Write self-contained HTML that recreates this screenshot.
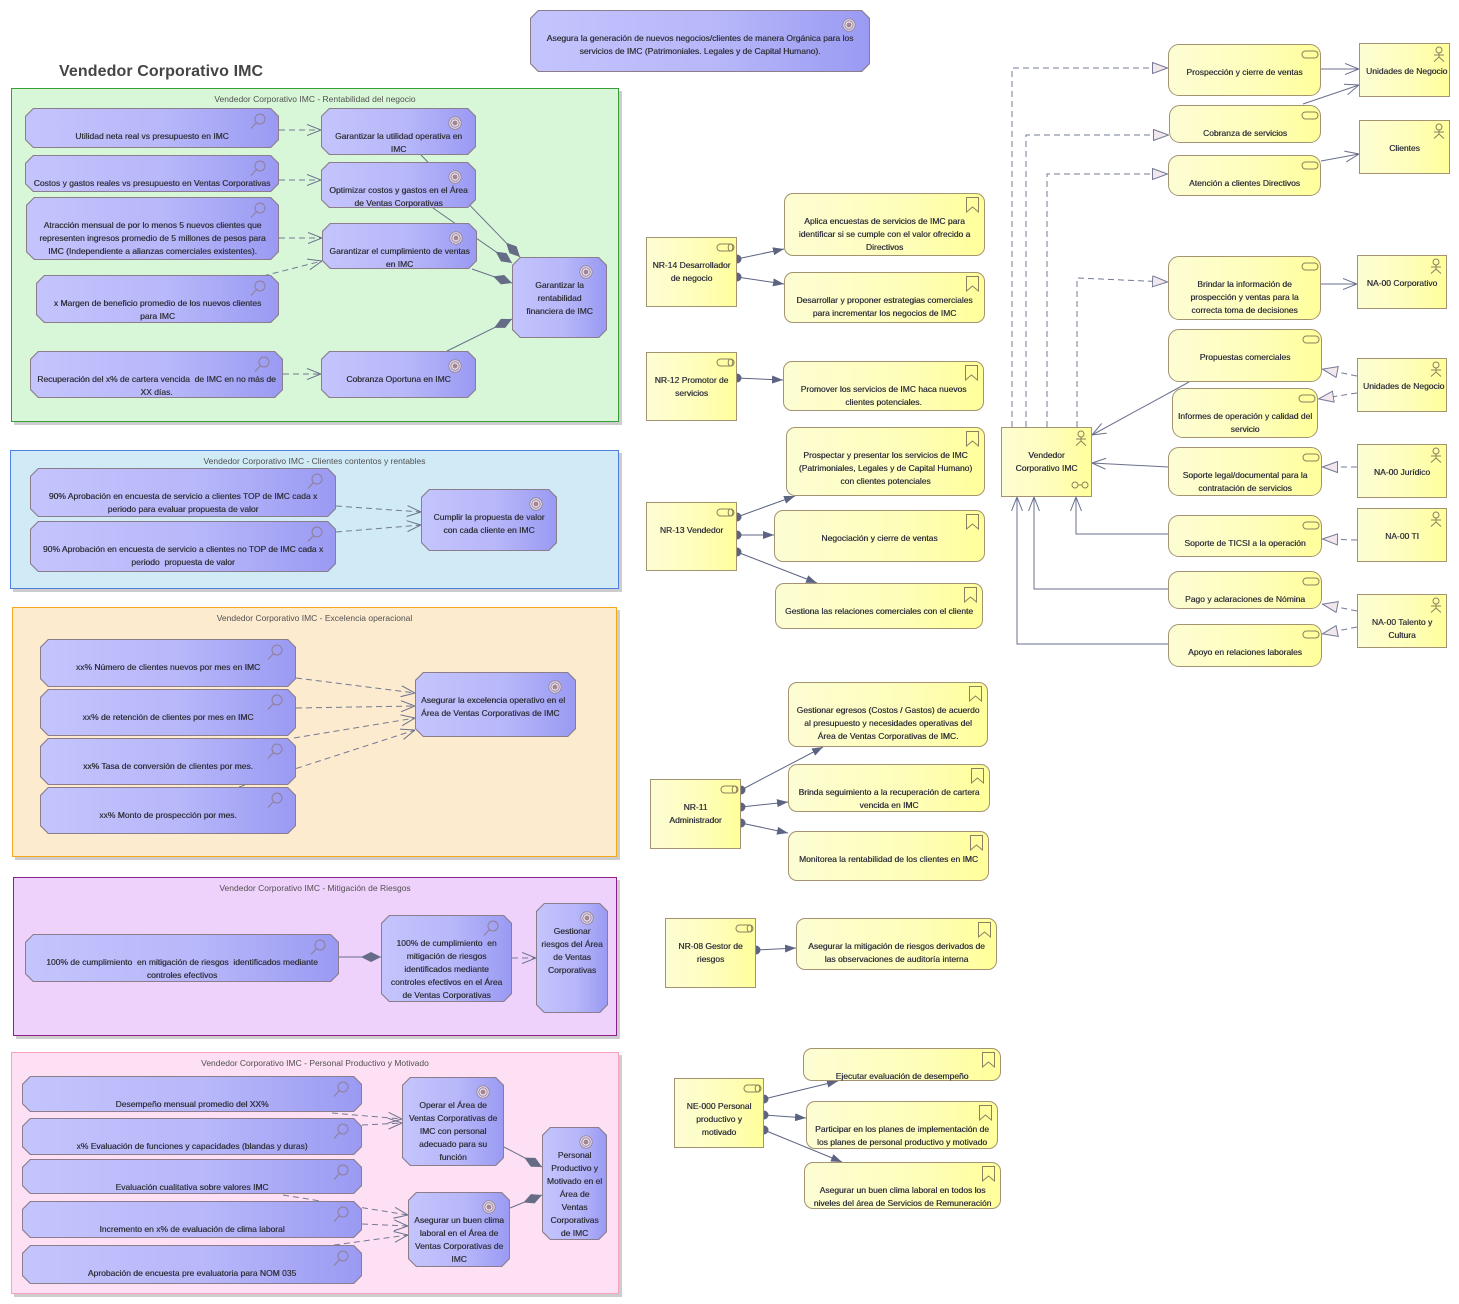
<!DOCTYPE html>
<html><head><meta charset="utf-8"><style>
*{box-sizing:border-box}
body{margin:0;width:1459px;height:1304px;position:relative;overflow:hidden;background:#fff;font-family:"Liberation Sans",Arial,sans-serif}
.f{position:absolute;box-shadow:3px 3px 0 #cdcdcd}
.f>span{position:absolute;left:0;right:0;top:5px;text-align:center;font-size:8.5px;line-height:10px;color:#505050;white-space:nowrap}
.m,.y,.r{position:absolute}
.m{background:#8b7d8c;clip-path:polygon(8px 0,calc(100% - 8px) 0,100% 8px,100% calc(100% - 8px),calc(100% - 8px) 100%,8px 100%,0 calc(100% - 8px),0 8px)}
.m>i{position:absolute;left:1px;top:1px;right:1px;bottom:1px;background:linear-gradient(90deg,#c4c4fd,#b7b7fa 55%,#9a9af3);clip-path:polygon(7.6px 0,calc(100% - 7.6px) 0,100% 7.6px,100% calc(100% - 7.6px),calc(100% - 7.6px) 100%,7.6px 100%,0 calc(100% - 7.6px),0 7.6px)}
b{position:absolute;left:0;right:0;top:22px;text-align:center;font-weight:normal;font-size:8.5px;line-height:13px;color:#34343f;white-space:nowrap;text-shadow:0.3px 0 0 #34343f}
.y{border:1px solid #a39370;border-radius:9px;background:linear-gradient(90deg,#fdfdd4,#fefeb9 60%,#ffff9b)}
.r{border:1px solid #a39370;background:linear-gradient(90deg,#fdfdd4,#fefeb9 60%,#ffff9b);overflow:hidden}
.y>b,.r>b{top:21px}
.gl{position:absolute;right:14px;top:8px;width:14px;height:14px}
.kp{position:absolute;right:13px;top:5px;width:16px;height:16px}
.fn{position:absolute;right:4px;top:2px;width:15px;height:17px}
.sv{position:absolute;right:1px;top:5px;width:18px;height:9px}
.ro{position:absolute;right:1px;top:5px;width:19px;height:9px}
.ac{position:absolute;right:3px;top:2px;width:14px;height:16px}
.co{position:absolute;right:2px;bottom:7px;width:18px;height:8px}
#c{position:absolute;left:0;top:0}
.title{position:absolute;left:59px;top:63px;font-size:16px;line-height:18px;letter-spacing:0.1px;font-weight:bold;color:#454545;white-space:nowrap}
</style></head><body>
<svg width="0" height="0" style="position:absolute"><defs>
<symbol id="gl" viewBox="0 0 14 14"><circle cx="7" cy="7" r="6.2" fill="#e8deef" stroke="#9b8a9f"/><circle cx="7" cy="7" r="4.2" fill="none" stroke="#9b8a9f"/><circle cx="7" cy="7" r="2.4" fill="#a4868e"/></symbol>
<symbol id="kp" viewBox="0 0 16 16"><circle cx="10" cy="6" r="5" fill="none" stroke="#8f7f96"/><path d="M6.5,9.5 L1,15.5" stroke="#8f7f96"/></symbol>
<symbol id="fn" viewBox="0 0 15 17"><path d="M1.5,1.5 H13.5 V16 L7.5,11 L1.5,16 Z" fill="none" stroke="#8c8060"/></symbol>
<symbol id="sv" viewBox="0 0 18 9"><rect x="1" y="1" width="16" height="7" rx="3.5" fill="none" stroke="#8c8060"/></symbol>
<symbol id="ro" viewBox="0 0 19 9"><rect x="1" y="1" width="17" height="7" rx="3.5" fill="none" stroke="#8c8060"/><ellipse cx="14.5" cy="4.5" rx="2.3" ry="3.5" fill="none" stroke="#8c8060"/></symbol>
<symbol id="ac" viewBox="0 0 14 16"><circle cx="7" cy="4" r="3" fill="none" stroke="#8c8060"/><path d="M7,7 V11 M2,9 H12 M7,11 L2,15.5 M7,11 L12,15.5" fill="none" stroke="#8c8060"/></symbol>
<symbol id="co" viewBox="0 0 18 8"><circle cx="4" cy="4" r="3" fill="none" stroke="#8c8060"/><circle cx="14" cy="4" r="3" fill="none" stroke="#8c8060"/><path d="M7,4 H11" stroke="#8c8060"/></symbol>
</defs></svg>

<div class="title">Vendedor Corporativo IMC</div>

<div class="f" style="left:11px;top:88px;width:608px;height:334px;background:#d8f7d8;border:1px solid #35a035"><span>Vendedor Corporativo IMC - Rentabilidad del negocio</span></div>
<div class="f" style="left:10px;top:450px;width:609px;height:139px;background:#d1ebf6;border:1px solid #4f7fe0"><span>Vendedor Corporativo IMC - Clientes contentos y rentables</span></div>
<div class="f" style="left:12px;top:607px;width:605px;height:250px;background:#fdebcf;border:1px solid #f6a81d"><span>Vendedor Corporativo IMC - Excelencia operacional</span></div>
<div class="f" style="left:13px;top:877px;width:604px;height:159px;background:#efd2fb;border:1px solid #8b1f8b"><span>Vendedor Corporativo IMC - Mitigación de Riesgos</span></div>
<div class="f" style="left:11px;top:1052px;width:608px;height:242px;background:#fde0f3;border:1px solid #f5a2bd"><span>Vendedor Corporativo IMC - Personal Productivo y Motivado</span></div>

<svg id="c" width="1459" height="1304">
<defs>
<marker id="oa" viewBox="0 0 14 12" refX="14" refY="6" markerWidth="14" markerHeight="12" orient="auto" markerUnits="userSpaceOnUse"><path d="M0,0.5 L14,6 L0,11.5" fill="none" stroke="#6a708c" stroke-width="1"/></marker>
<marker id="fa" viewBox="0 0 11 8" refX="11" refY="4" markerWidth="11" markerHeight="8" orient="auto" markerUnits="userSpaceOnUse"><path d="M0,0 L11,4 L0,8 Z" fill="#5c6482"/></marker>
<marker id="dm" viewBox="0 0 20 10" refX="20" refY="5" markerWidth="20" markerHeight="10" orient="auto" markerUnits="userSpaceOnUse"><path d="M0,5 L10,0 L20,5 L10,10 Z" fill="#666c86"/></marker>
<marker id="tr" viewBox="0 0 16 12" refX="16" refY="6" markerWidth="16" markerHeight="12" orient="auto" markerUnits="userSpaceOnUse"><path d="M0.5,0.5 L15.5,6 L0.5,11.5 Z" fill="#f3e7ee" stroke="#747a94"/></marker>
</defs>
<g fill="none" stroke="#737a94" stroke-width="1" stroke-dasharray="6,4" marker-end="url(#oa)">
<path d="M279,130 L321,130"/><path d="M279,180 L321,180"/><path d="M279,238 L322,238"/><path d="M263,276 L322,261"/><path d="M283,374 L321,374"/>
<path d="M336,506 L421,512"/><path d="M336,532 L421,525"/>
<path d="M296,678 L415,693"/><path d="M296,708 L415,706"/><path d="M294,738 L415,718"/><path d="M239,787 L415,730"/>
<path d="M512,958 L536,958"/>
<path d="M332,1113 L402,1119"/><path d="M362,1125 L402,1123"/><path d="M283,1195 L408,1215"/><path d="M362,1224 L408,1226"/><path d="M334,1245 L408,1235"/>
</g>
<g fill="none" stroke="#6a708c" stroke-width="1" marker-end="url(#dm)">
<path d="M421,155 L520,257"/><path d="M433,208 L512,263"/><path d="M472,269 L512,283"/><path d="M447,351 L512,319"/>
<path d="M339,957 L381,957"/>
<path d="M504,1147 L542,1167"/><path d="M510,1208 L542,1195"/>
</g>
<g fill="none" stroke="#5c6482" stroke-width="1" marker-end="url(#fa)">
<path d="M737,259 L784,249"/><path d="M737,277 L784,284"/><path d="M737,378 L783,380"/>
<path d="M737,517 L795,496"/><path d="M737,535 L774,535"/><path d="M737,552 L817,583"/>
<path d="M741,790 L823,747"/><path d="M741,807 L788,802"/><path d="M741,823 L788,833"/>
<path d="M756,950 L796,948"/>
<path d="M764,1099 L838,1081"/><path d="M764,1115 L806,1118"/><path d="M764,1130 L842,1162"/>
</g>
<g fill="none" stroke="#6a708c" stroke-width="1" marker-end="url(#oa)">
<path d="M1321,69 L1359,69"/><path d="M1303,104 L1359,85"/><path d="M1321,161 L1359,154"/><path d="M1321,284 L1357,284"/>
<path d="M1189,382 L1092,435"/><path d="M1168,467 L1092,463"/>
<path d="M1168,534 H1076 V497"/><path d="M1168,589 H1034 V497"/><path d="M1168,644 H1017 V497"/>
</g>
<g fill="none" stroke="#737a94" stroke-width="1" stroke-dasharray="6,4" marker-end="url(#tr)">
<path d="M1012,427 V68 H1168"/><path d="M1026,427 V135 H1169"/><path d="M1047,427 V174 H1168"/><path d="M1077,427 V278 L1168,282"/>
<path d="M1357,376 L1322,369"/><path d="M1357,393 L1318,399"/><path d="M1357,467 L1322,467"/><path d="M1357,540 L1322,539"/><path d="M1357,611 L1322,604"/><path d="M1357,627 L1322,634"/>
</g>
<g fill="#5c6482">
<circle cx="737" cy="259" r="4.5"/><circle cx="737" cy="277" r="4.5"/><circle cx="737" cy="378" r="4.5"/>
<circle cx="737" cy="517" r="4.5"/><circle cx="737" cy="535" r="4.5"/><circle cx="737" cy="552" r="4.5"/>
<circle cx="741" cy="790" r="4.5"/><circle cx="741" cy="807" r="4.5"/><circle cx="741" cy="823" r="4.5"/>
<circle cx="756" cy="950" r="4.5"/>
<circle cx="764" cy="1099" r="4.5"/><circle cx="764" cy="1115" r="4.5"/><circle cx="764" cy="1130" r="4.5"/>
</g>
</svg>

<!-- Top goal -->
<div class="m" style="left:530px;top:10px;width:340px;height:62px"><i></i><svg class="gl"><use href="#gl"/></svg><b>Asegura la generación de nuevos negocios/clientes de manera Orgánica para los<br>servicios de IMC (Patrimoniales. Legales y de Capital Humano).</b></div>

<!-- Frame 1 -->
<div class="m" style="left:25px;top:108px;width:254px;height:40px"><i></i><svg class="kp"><use href="#kp"/></svg><b>Utilidad neta real vs presupuesto en IMC</b></div>
<div class="m" style="left:25px;top:155px;width:254px;height:37px"><i></i><svg class="kp"><use href="#kp"/></svg><b>Costos y gastos reales vs presupuesto en Ventas Corporativas</b></div>
<div class="m" style="left:26px;top:197px;width:253px;height:63px"><i></i><svg class="kp"><use href="#kp"/></svg><b>Atracción mensual de por lo menos 5 nuevos clientes que<br>representen ingresos promedio de 5 millones de pesos para<br>IMC (Independiente a alianzas comerciales existentes).</b></div>
<div class="m" style="left:36px;top:275px;width:243px;height:48px"><i></i><svg class="kp"><use href="#kp"/></svg><b>x Margen de beneficio promedio de los nuevos clientes<br>para IMC</b></div>
<div class="m" style="left:30px;top:351px;width:253px;height:47px"><i></i><svg class="kp"><use href="#kp"/></svg><b>Recuperación del x% de cartera vencida&nbsp; de IMC en no más de<br>XX días.</b></div>
<div class="m" style="left:321px;top:108px;width:155px;height:47px"><i></i><svg class="gl"><use href="#gl"/></svg><b>Garantizar la utilidad operativa en<br>IMC</b></div>
<div class="m" style="left:321px;top:162px;width:155px;height:46px"><i></i><svg class="gl"><use href="#gl"/></svg><b>Optimizar costos y gastos en el Área<br>de Ventas Corporativas</b></div>
<div class="m" style="left:322px;top:223px;width:155px;height:46px"><i></i><svg class="gl"><use href="#gl"/></svg><b>Garantizar el cumplimiento de ventas<br>en IMC</b></div>
<div class="m" style="left:321px;top:351px;width:155px;height:47px"><i></i><svg class="gl"><use href="#gl"/></svg><b>Cobranza Oportuna en IMC</b></div>
<div class="m" style="left:512px;top:257px;width:95px;height:81px"><i></i><svg class="gl"><use href="#gl"/></svg><b>Garantizar la<br>rentabilidad<br>financiera de IMC</b></div>

<!-- Frame 2 -->
<div class="m" style="left:30px;top:468px;width:306px;height:49px"><i></i><svg class="kp"><use href="#kp"/></svg><b>90% Aprobación en encuesta de servicio a clientes TOP de IMC cada x<br>periodo para evaluar propuesta de valor</b></div>
<div class="m" style="left:30px;top:521px;width:306px;height:51px"><i></i><svg class="kp"><use href="#kp"/></svg><b>90% Aprobación en encuesta de servicio a clientes no TOP de IMC cada x<br>periodo&nbsp; propuesta de valor</b></div>
<div class="m" style="left:421px;top:489px;width:136px;height:62px"><i></i><svg class="gl"><use href="#gl"/></svg><b>Cumplir la propuesta de valor<br>con cada cliente en IMC</b></div>

<!-- Frame 3 -->
<div class="m" style="left:40px;top:639px;width:256px;height:48px"><i></i><svg class="kp"><use href="#kp"/></svg><b>xx% Número de clientes nuevos por mes en IMC</b></div>
<div class="m" style="left:40px;top:689px;width:256px;height:47px"><i></i><svg class="kp"><use href="#kp"/></svg><b>xx% de retención de clientes por mes en IMC</b></div>
<div class="m" style="left:40px;top:738px;width:256px;height:47px"><i></i><svg class="kp"><use href="#kp"/></svg><b>xx% Tasa de conversión de clientes por mes.</b></div>
<div class="m" style="left:40px;top:787px;width:256px;height:47px"><i></i><svg class="kp"><use href="#kp"/></svg><b>xx% Monto de prospección por mes.</b></div>
<div class="m" style="left:415px;top:672px;width:161px;height:65px"><i></i><svg class="gl"><use href="#gl"/></svg><b style="text-align:left;left:6px">Asegurar la excelencia operativo en el<br>Área de Ventas Corporativas de IMC</b></div>

<!-- Frame 4 -->
<div class="m" style="left:25px;top:934px;width:314px;height:48px"><i></i><svg class="kp"><use href="#kp"/></svg><b>100% de cumplimiento&nbsp; en mitigación de riesgos&nbsp; identificados mediante<br>controles efectivos</b></div>
<div class="m" style="left:381px;top:915px;width:131px;height:87px"><i></i><svg class="kp"><use href="#kp"/></svg><b>100% de cumplimiento&nbsp; en<br>mitigación de riesgos<br>identificados mediante<br>controles efectivos en el Área<br>de Ventas Corporativas</b></div>
<div class="m" style="left:536px;top:903px;width:72px;height:110px"><i></i><svg class="gl"><use href="#gl"/></svg><b>Gestionar<br>riesgos del Área<br>de Ventas<br>Corporativas</b></div>

<!-- Frame 5 -->
<div class="m" style="left:22px;top:1076px;width:340px;height:36px"><i></i><svg class="kp"><use href="#kp"/></svg><b>Desempeño mensual promedio del XX%</b></div>
<div class="m" style="left:22px;top:1118px;width:340px;height:37px"><i></i><svg class="kp"><use href="#kp"/></svg><b>x% Evaluación de funciones y capacidades (blandas y duras)</b></div>
<div class="m" style="left:22px;top:1159px;width:340px;height:35px"><i></i><svg class="kp"><use href="#kp"/></svg><b>Evaluación cualitativa sobre valores IMC</b></div>
<div class="m" style="left:22px;top:1201px;width:340px;height:37px"><i></i><svg class="kp"><use href="#kp"/></svg><b>Incremento en x% de evaluación de clima laboral</b></div>
<div class="m" style="left:22px;top:1245px;width:340px;height:39px"><i></i><svg class="kp"><use href="#kp"/></svg><b>Aprobación de encuesta pre evaluatoria para NOM 035</b></div>
<div class="m" style="left:402px;top:1077px;width:102px;height:89px"><i></i><svg class="gl"><use href="#gl"/></svg><b>Operar el Área de<br>Ventas Corporativas de<br>IMC con personal<br>adecuado para su<br>función</b></div>
<div class="m" style="left:408px;top:1192px;width:102px;height:75px"><i></i><svg class="gl"><use href="#gl"/></svg><b>Asegurar un buen clima<br>laboral en el Área de<br>Ventas Corporativas de<br>IMC</b></div>
<div class="m" style="left:542px;top:1127px;width:65px;height:113px"><i></i><svg class="gl"><use href="#gl"/></svg><b>Personal<br>Productivo y<br>Motivado en el<br>Área de<br>Ventas<br>Corporativas<br>de IMC</b></div>

<!-- Roles -->
<div class="r" style="left:646px;top:237px;width:91px;height:70px"><svg class="ro"><use href="#ro"/></svg><b>NR-14 Desarrollador<br>de negocio</b></div>
<div class="r" style="left:646px;top:352px;width:91px;height:69px"><svg class="ro"><use href="#ro"/></svg><b>NR-12 Promotor de<br>servicios</b></div>
<div class="r" style="left:646px;top:502px;width:91px;height:69px"><svg class="ro"><use href="#ro"/></svg><b>NR-13 Vendedor</b></div>
<div class="r" style="left:650px;top:779px;width:91px;height:70px"><svg class="ro"><use href="#ro"/></svg><b>NR-11<br>Administrador</b></div>
<div class="r" style="left:665px;top:918px;width:91px;height:70px"><svg class="ro"><use href="#ro"/></svg><b>NR-08 Gestor de<br>riesgos</b></div>
<div class="r" style="left:674px;top:1078px;width:90px;height:70px"><svg class="ro"><use href="#ro"/></svg><b>NE-000 Personal<br>productivo y<br>motivado</b></div>

<!-- Functions -->
<div class="y" style="left:784px;top:193px;width:201px;height:63px"><svg class="fn"><use href="#fn"/></svg><b>Aplica encuestas de servicios de IMC para<br>identificar si se cumple con el valor ofrecido a<br>Directivos</b></div>
<div class="y" style="left:784px;top:272px;width:201px;height:51px"><svg class="fn"><use href="#fn"/></svg><b>Desarrollar y proponer estrategias comerciales<br>para incrementar los negocios de IMC</b></div>
<div class="y" style="left:783px;top:361px;width:201px;height:50px"><svg class="fn"><use href="#fn"/></svg><b>Promover los servicios de IMC haca nuevos<br>clientes potenciales.</b></div>
<div class="y" style="left:786px;top:427px;width:199px;height:69px"><svg class="fn"><use href="#fn"/></svg><b>Prospectar y presentar los servicios de IMC<br>(Patrimoniales, Legales y de Capital Humano)<br>con clientes potenciales</b></div>
<div class="y" style="left:774px;top:510px;width:211px;height:52px"><svg class="fn"><use href="#fn"/></svg><b>Negociación y cierre de ventas</b></div>
<div class="y" style="left:775px;top:583px;width:208px;height:46px"><svg class="fn"><use href="#fn"/></svg><b>Gestiona las relaciones comerciales con el cliente</b></div>
<div class="y" style="left:788px;top:682px;width:200px;height:65px"><svg class="fn"><use href="#fn"/></svg><b>Gestionar egresos (Costos / Gastos) de acuerdo<br>al presupuesto y necesidades operativas del<br>Área de Ventas Corporativas de IMC.</b></div>
<div class="y" style="left:788px;top:764px;width:202px;height:48px"><svg class="fn"><use href="#fn"/></svg><b>Brinda seguimiento a la recuperación de cartera<br>vencida en IMC</b></div>
<div class="y" style="left:788px;top:831px;width:201px;height:50px"><svg class="fn"><use href="#fn"/></svg><b>Monitorea la rentabilidad de los clientes en IMC</b></div>
<div class="y" style="left:796px;top:918px;width:201px;height:52px"><svg class="fn"><use href="#fn"/></svg><b>Asegurar la mitigación de riesgos derivados de<br>las observaciones de auditoría interna</b></div>
<div class="y" style="left:803px;top:1048px;width:198px;height:33px"><svg class="fn"><use href="#fn"/></svg><b>Ejecutar evaluación de desempeño</b></div>
<div class="y" style="left:806px;top:1101px;width:192px;height:48px"><svg class="fn"><use href="#fn"/></svg><b>Participar en los planes de implementación de<br>los planes de personal productivo y motivado</b></div>
<div class="y" style="left:804px;top:1162px;width:197px;height:47px"><svg class="fn"><use href="#fn"/></svg><b>Asegurar un buen clima laboral en todos los<br>niveles del área de Servicios de Remuneración</b></div>

<!-- Services -->
<div class="y" style="left:1168px;top:44px;width:153px;height:52px;border-radius:11px"><svg class="sv"><use href="#sv"/></svg><b>Prospección y cierre de ventas</b></div>
<div class="y" style="left:1169px;top:105px;width:152px;height:38px;border-radius:11px"><svg class="sv"><use href="#sv"/></svg><b>Cobranza de servicios</b></div>
<div class="y" style="left:1168px;top:155px;width:153px;height:41px;border-radius:11px"><svg class="sv"><use href="#sv"/></svg><b>Atención a clientes Directivos</b></div>
<div class="y" style="left:1168px;top:256px;width:153px;height:64px;border-radius:11px"><svg class="sv"><use href="#sv"/></svg><b>Brindar la información de<br>prospección y ventas para la<br>correcta toma de decisiones</b></div>
<div class="y" style="left:1168px;top:329px;width:154px;height:53px;border-radius:11px"><svg class="sv"><use href="#sv"/></svg><b>Propuestas comerciales</b></div>
<div class="y" style="left:1172px;top:388px;width:146px;height:50px;border-radius:11px"><svg class="sv"><use href="#sv"/></svg><b>Informes de operación y calidad del<br>servicio</b></div>
<div class="y" style="left:1168px;top:447px;width:154px;height:49px;border-radius:11px"><svg class="sv"><use href="#sv"/></svg><b>Soporte legal/documental para la<br>contratación de servicios</b></div>
<div class="y" style="left:1168px;top:515px;width:154px;height:42px;border-radius:11px"><svg class="sv"><use href="#sv"/></svg><b>Soporte de TICSI a la operación</b></div>
<div class="y" style="left:1168px;top:571px;width:154px;height:38px;border-radius:11px"><svg class="sv"><use href="#sv"/></svg><b>Pago y aclaraciones de Nómina</b></div>
<div class="y" style="left:1168px;top:624px;width:154px;height:43px;border-radius:11px"><svg class="sv"><use href="#sv"/></svg><b>Apoyo en relaciones laborales</b></div>

<!-- Actors -->
<div class="r" style="left:1359px;top:43px;width:91px;height:54px"><svg class="ac"><use href="#ac"/></svg><b style="text-align:left;left:6px">Unidades de Negocio</b></div>
<div class="r" style="left:1359px;top:120px;width:91px;height:54px"><svg class="ac"><use href="#ac"/></svg><b>Clientes</b></div>
<div class="r" style="left:1357px;top:255px;width:90px;height:54px"><svg class="ac"><use href="#ac"/></svg><b>NA-00 Corporativo</b></div>
<div class="r" style="left:1357px;top:358px;width:90px;height:54px"><svg class="ac"><use href="#ac"/></svg><b style="text-align:left;left:5px">Unidades de Negocio</b></div>
<div class="r" style="left:1357px;top:444px;width:90px;height:54px"><svg class="ac"><use href="#ac"/></svg><b>NA-00 Jurídico</b></div>
<div class="r" style="left:1357px;top:508px;width:90px;height:54px"><svg class="ac"><use href="#ac"/></svg><b>NA-00 TI</b></div>
<div class="r" style="left:1357px;top:594px;width:90px;height:54px"><svg class="ac"><use href="#ac"/></svg><b>NA-00 Talento y<br>Cultura</b></div>
<div class="r" style="left:1001px;top:427px;width:91px;height:70px"><svg class="ac"><use href="#ac"/></svg><svg class="co"><use href="#co"/></svg><b>Vendedor<br>Corporativo IMC</b></div>

</body></html>
